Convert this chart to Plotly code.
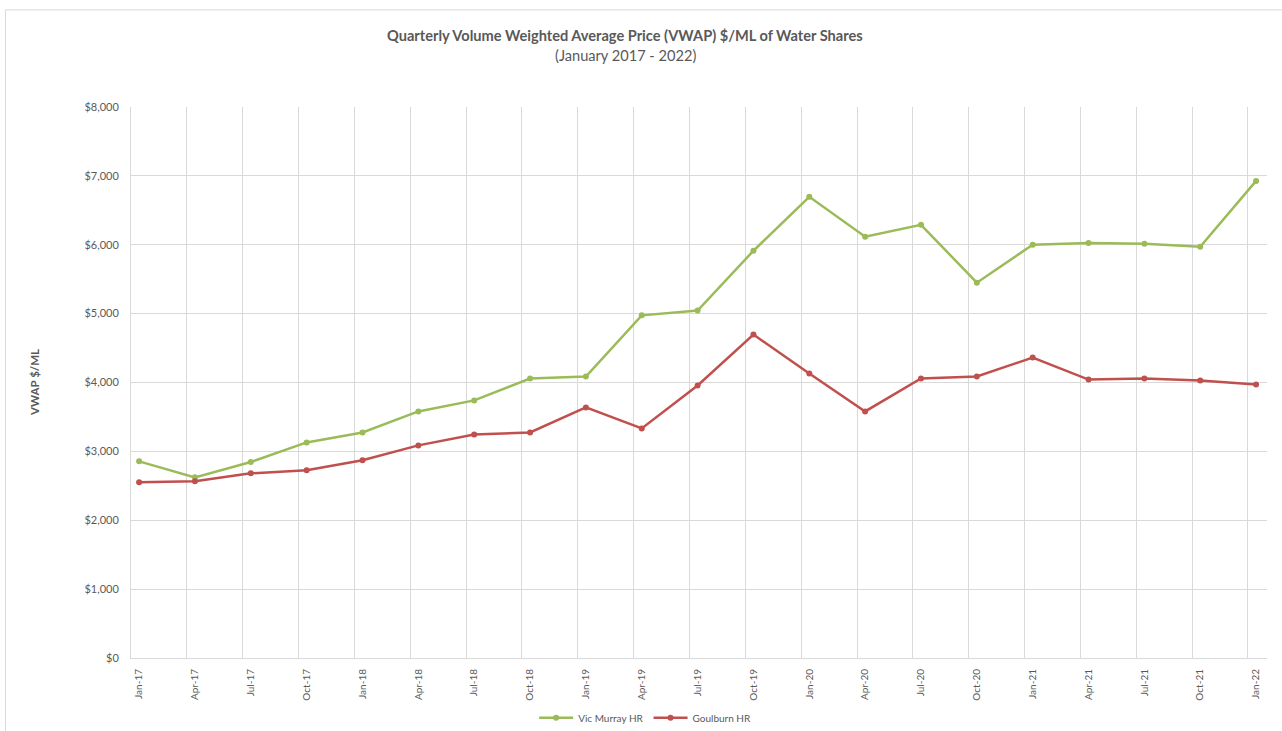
import plotly.graph_objects as go

quarters = ["Jan-17", "Apr-17", "Jul-17", "Oct-17", "Jan-18", "Apr-18", "Jul-18", "Oct-18",
            "Jan-19", "Apr-19", "Jul-19", "Oct-19", "Jan-20", "Apr-20", "Jul-20", "Oct-20",
            "Jan-21", "Apr-21", "Jul-21", "Oct-21", "Jan-22"]

vic_murray_hr = [2855, 2623, 2845, 3130, 3275, 3580, 3740, 4058, 4087, 4975, 5045, 5913,
                 6696, 6116, 6290, 5449, 6000, 6025, 6014, 5971, 6927]

goulburn_hr = [2551, 2565, 2681, 2725, 2870, 3087, 3246, 3275, 3638, 3333, 3957, 4696,
               4130, 3580, 4058, 4087, 4362, 4043, 4058, 4029, 3971]

y_ticks = [0, 1000, 2000, 3000, 4000, 5000, 6000, 7000, 8000]

GREEN = "#9BBB59"
RED = "#C0504D"
GRID = "#D9D9D9"
TXT = "#595959"
FONT = "Lato"

W, H = 1282, 731
L, R, T, B = 131, 1266.7, 106.7, 658.3
pw, ph = R - L, B - T

def px(x):
    return (x - L) / pw

def py(y):
    return (B - y) / ph

xs = list(range(len(quarters)))
off = 0.145
x_range = [-off, -off + pw / ((1247.7 - 131) / 20)]

fig = go.Figure()
fig.add_trace(go.Scatter(x=xs, y=vic_murray_hr, name="Vic Murray HR", mode="lines+markers",
                         line=dict(color=GREEN, width=2.5), marker=dict(color=GREEN, size=6)))
fig.add_trace(go.Scatter(x=xs, y=goulburn_hr, name="Goulburn HR", mode="lines+markers",
                         line=dict(color=RED, width=2.5), marker=dict(color=RED, size=6)))

fig.update_layout(
    width=W, height=H,
    margin=dict(l=L, r=W - R, t=T, b=H - B, autoexpand=False),
    paper_bgcolor="white", plot_bgcolor="white",
    font=dict(family=FONT, color=TXT),
    showlegend=True,
    legend=dict(orientation="h", x=px(645), xanchor="center", y=py(718), yanchor="middle",
                font=dict(size=10, color=TXT), itemwidth=34, tracegroupgap=0),
    xaxis=dict(range=x_range, tickmode="array", tickvals=xs, ticktext=quarters,
               tickangle=-90, tickfont=dict(size=10, color=TXT), showgrid=False,
               showline=True, linecolor=GRID, linewidth=1, mirror=False,
               ticks="", ticklabelstandoff=6, zeroline=False,
               minor=dict(tickvals=[i - off for i in range(1, len(quarters))],
                          showgrid=True, gridcolor=GRID, gridwidth=1, ticks="")),
    yaxis=dict(range=[0, 8000], tickmode="array", tickvals=y_ticks,
               ticktext=["${:,}".format(v) for v in y_ticks],
               tickfont=dict(size=11, color=TXT), showgrid=True, gridcolor=GRID, gridwidth=1,
               showline=True, linecolor=GRID, linewidth=1, zeroline=False, ticks="",
               ticklabelstandoff=9),
    annotations=[
        dict(text="<b>Quarterly Volume Weighted Average Price (VWAP) $/ML of Water Shares</b>",
             xref="paper", yref="paper", x=px(625), y=py(35), xanchor="center", yanchor="middle",
             showarrow=False, font=dict(size=14.6, color=TXT, family=FONT)),
        dict(text="(January 2017 - 2022)",
             xref="paper", yref="paper", x=px(625), y=py(55), xanchor="center", yanchor="middle",
             showarrow=False, font=dict(size=14.6, color=TXT, family=FONT)),
        dict(text="<b>VWAP $/ML</b>", textangle=-90,
             xref="paper", yref="paper", x=px(34), y=py(382), xanchor="center", yanchor="middle",
             showarrow=False, font=dict(size=11.5, color=TXT, family=FONT)),
    ],
    shapes=[dict(type="rect", xref="paper", yref="paper", x0=px(5.5), x1=px(1300),
                 y0=py(9.5), y1=py(750), line=dict(color=GRID, width=1), layer="below")],
)

fig.write_html("out.html")
